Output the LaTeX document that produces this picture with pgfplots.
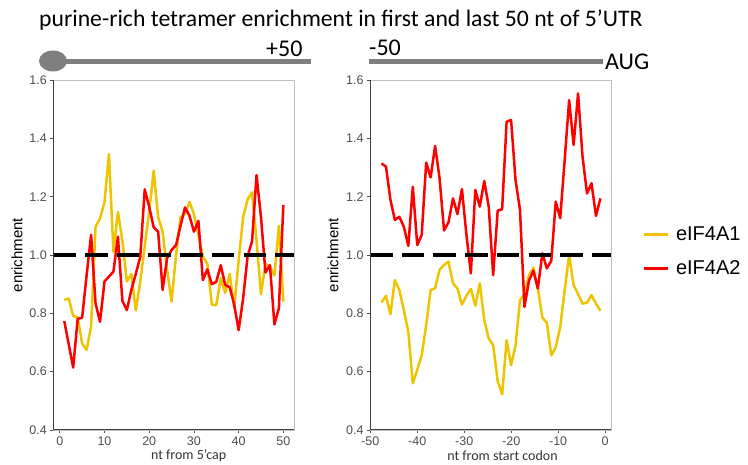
\documentclass[border=0pt]{standalone}
\usepackage{fontspec}
\setmainfont{Liberation Sans}
\newfontfamily\calibri{Carlito}
\usepackage{pgfplots}
\usepackage{pgfplotstable}
\pgfplotsset{compat=1.18}
\definecolor{gold}{RGB}{238,196,0}
\definecolor{tickgray}{RGB}{77,77,77}
\definecolor{bargray}{RGB}{127,127,127}

\pgfplotstableread{
x a1 a2
1 0.846 0.774
2 0.851 0.694
3 0.791 0.614
4 0.786 0.781
5 0.697 0.785
6 0.674 0.930
7 0.754 1.069
8 1.097 0.834
9 1.125 0.771
10 1.182 0.909
11 1.346 0.926
12 1.010 0.943
13 1.148 1.063
14 1.050 0.843
15 0.909 0.811
16 0.935 0.880
17 0.810 0.935
18 0.910 0.994
19 1.030 1.225
20 1.150 1.165
21 1.289 1.095
22 1.130 1.080
23 1.080 0.880
24 0.950 0.989
25 0.840 1.017
26 1.000 1.034
27 1.130 1.100
28 1.140 1.163
29 1.182 1.135
30 1.140 1.080
31 1.070 1.117
32 0.995 0.914
33 0.970 0.951
34 0.830 0.900
35 0.828 0.908
36 0.920 0.965
37 0.870 0.897
38 0.935 0.890
39 0.820 0.830
40 0.980 0.742
41 1.130 0.850
42 1.190 0.995
43 1.215 1.047
44 1.050 1.274
45 0.865 1.130
46 0.970 0.940
47 0.960 0.965
48 0.930 0.762
49 1.100 0.817
50 0.840 1.171
}\leftdata

\pgfplotstableread{
x a1 a2
-47.60 0.837 1.314
-46.65 0.860 1.303
-45.70 0.797 1.189
-44.75 0.914 1.120
-43.80 0.880 1.131
-42.85 0.811 1.097
-41.89 0.737 1.031
-40.94 0.560 1.234
-39.99 0.606 1.034
-39.04 0.657 1.069
-38.09 0.760 1.317
-37.14 0.880 1.266
-36.19 0.886 1.374
-35.24 0.949 1.263
-34.29 0.966 1.084
-33.34 0.977 1.112
-32.38 0.903 1.194
-31.43 0.885 1.140
-30.48 0.830 1.226
-29.53 0.860 1.070
-28.58 0.884 0.937
-27.63 0.826 1.223
-26.68 0.903 1.166
-25.73 0.777 1.254
-24.78 0.714 1.166
-23.83 0.690 0.931
-22.87 0.568 1.152
-21.92 0.522 1.157
-20.97 0.708 1.457
-20.02 0.622 1.463
-19.07 0.690 1.257
-18.12 0.845 1.154
-17.17 0.865 0.822
-16.22 0.930 0.911
-15.27 0.957 0.946
-14.32 0.885 0.885
-13.36 0.785 1.006
-12.41 0.768 0.954
-11.46 0.656 0.980
-10.51 0.683 1.183
-9.56 0.754 1.126
-8.61 0.880 1.326
-7.66 1.000 1.531
-6.71 0.897 1.377
-5.76 0.866 1.554
-4.81 0.833 1.337
-3.85 0.837 1.211
-2.90 0.862 1.246
-1.95 0.833 1.134
-1.00 0.809 1.194
}\rightdata

\pgfplotsset{
  panel/.style={
    scale only axis, width=241pt, height=350pt,
    ymin=0.4, ymax=1.6, ytick={0.4,0.6,0.8,1.0,1.2,1.4,1.6},
    axis line style={draw=black!25, line width=0.8pt},
    tick pos=left, tick align=outside, major tick length=3pt,
    tick style={black!70, line width=0.8pt},
    /pgf/number format/assume math mode=true,
    yticklabel style={font=\fontsize{12.5}{12.5}\selectfont, text=tickgray,
      /pgf/number format/.cd, fixed, fixed zerofill, precision=1},
    xticklabel style={font=\fontsize{12.5}{12.5}\selectfont, text=tickgray},
    every axis plot/.append style={line join=round},
    after end axis/.code={\draw[black!75, line width=1pt] (rel axis cs:0,1) -- (rel axis cs:0,0) -- (rel axis cs:1,0);},
  },
  dashref/.style={black, line width=4pt, dash pattern=on 22.5pt off 9.2pt, forget plot},
}

\begin{document}
\begin{tikzpicture}
\path[use as bounding box] (0,0) rectangle (748pt,465pt);

% header
\node[anchor=base west, inner sep=0pt, font=\calibri\fontsize{23.7}{24}\selectfont] at (39pt,438pt) {purine-rich tetramer enrichment in first and last 50 nt of 5’UTR};
\fill[bargray] (52pt,400.5pt) rectangle (311pt,405.5pt);
\fill[bargray] (53pt,404pt) ellipse [x radius=14pt, y radius=10.5pt];
\node[anchor=base west, inner sep=0pt, font=\calibri\fontsize{24}{24}\selectfont] at (266pt,408pt) {+50};
\fill[bargray] (369pt,400.5pt) rectangle (603pt,405.5pt);
\node[anchor=base west, inner sep=0pt, font=\calibri\fontsize{24}{24}\selectfont] at (369pt,409pt) {-50};
\node[anchor=base west, inner sep=0pt, font=\calibri\fontsize{24}{24}\selectfont] at (605pt,395pt) {AUG};

% left panel
\begin{axis}[panel, at={(53.3pt,35pt)}, anchor=south west,
  xmin=-1.45, xmax=52.45, xtick={0,10,20,30,40,50}]
\addplot[gold, line width=2.5pt] table[x=x, y=a1] {\leftdata};
\addplot[red, line width=2.5pt] table[x=x, y=a2] {\leftdata};
\addplot[dashref] coordinates {(-1.45,1) (52.45,1)};
\end{axis}

% right panel
\begin{axis}[panel, at={(370pt,35pt)}, anchor=south west,
  xmin=-50.05, xmax=1.25, xtick={-50,-40,-30,-20,-10,0},
  legend style={at={(rel axis cs:1.128,0.51)}, anchor=west, draw=none, fill=none,
    inner sep=0pt, font=\fontsize{20}{20}\selectfont, row sep=15pt,
    /tikz/every odd column/.append style={column sep=5pt}},
  legend cell align=left,
  legend image code/.code={\draw[#1, line width=3pt] (0pt,0pt) -- (24pt,0pt);}]
\addplot[gold, line width=2.5pt] table[x=x, y=a1] {\rightdata};
\addlegendentry{eIF4A1}
\addplot[red, line width=2.5pt] table[x=x, y=a2] {\rightdata};
\addlegendentry{eIF4A2}
\addplot[dashref] coordinates {(-50.05,1) (1.25,1)};
\end{axis}

% axis titles
\node[rotate=90, font=\fontsize{15}{15}\selectfont] at (17pt,210pt) {enrichment};
\node[rotate=90, font=\fontsize{15}{15}\selectfont] at (333pt,210pt) {enrichment};
\node[font=\calibri\fontsize{14}{14}\selectfont, text=black!80] at (188.7pt,9pt) {nt from 5’cap};
\node[font=\calibri\fontsize{14}{14}\selectfont, text=black!80] at (502.5pt,9pt) {nt from start codon};
\end{tikzpicture}
\end{document}
